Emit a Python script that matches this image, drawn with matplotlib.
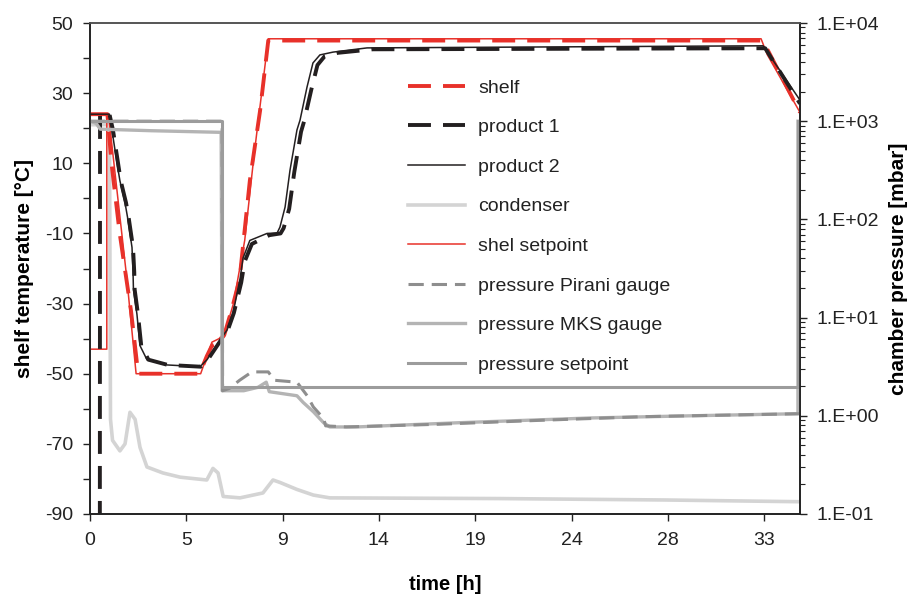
import numpy as np
import matplotlib
matplotlib.use("Agg")
import matplotlib.pyplot as plt
from matplotlib.ticker import FixedLocator, FuncFormatter, LogLocator, NullFormatter

plt.rcParams['font.family'] = ['Liberation Sans', 'DejaVu Sans']
plt.rcParams['axes.unicode_minus'] = False

# ---------------- data ----------------
x_tick_pos = [0, 4.7, 9.4, 14.1, 18.8, 23.5, 28.2, 32.9]
x_tick_labels = ['0', '5', '9', '14', '19', '24', '28', '33']

shelf_t = [0, 0.85, 1.05, 1.45, 1.75, 2.0, 2.35, 5.35, 5.7, 5.95, 6.3, 6.55, 6.95, 7.3, 7.8, 8.3, 8.7, 32.8, 33.1, 34.65]
shelf_T = [24, 24, 10, -10, -22, -32, -50, -50, -45, -42, -41, -39, -31, -23, 5, 25, 45, 45, 42, 24.5]

prod1_t = [0, 0.48, 0.49, 0.95, 1.12, 1.37, 1.5, 1.76, 1.9, 2.1, 2.16, 2.18, 2.34, 2.5, 2.85, 3.8, 5.4, 5.75, 6.38, 6.73, 7.02, 7.38, 7.55, 7.9, 8.75, 9.3, 9.45, 9.72, 9.97, 10.3, 10.45, 10.8, 11.1, 11.45, 12.1, 13.8, 32.95, 34.65]
prod1_T = [-100, -100, 24, 24, 19.5, 10, 5, -1.3, -6, -14, -21, -26, -33, -42, -46, -47.5, -48, -46, -40.5, -37.5, -32.7, -24, -18, -13, -10.5, -10, -8.5, -3, 7.5, 19, 22, 31, 38, 40.5, 41.5, 42.5, 42.8, 27]

prod2_t = [0, 0.5, 0.95, 1.07, 1.32, 1.46, 1.71, 1.85, 2.05, 2.1, 2.12, 2.29, 2.44, 2.78, 3.76, 5.37, 5.71, 6.34, 6.69, 6.98, 7.32, 7.47, 7.8, 8.64, 9.13, 9.27, 9.52, 9.76, 10.1, 10.25, 10.59, 10.88, 11.22, 11.86, 13.52, 32.85, 34.65]
prod2_T = [24, 24, 24, 19.5, 10, 5, -1.3, -6, -14, -21, -26, -33, -42, -46, -47.5, -48, -46, -40.5, -37.5, -32.7, -23, -17, -12, -10, -9.9, -8.2, -2.5, 8, 19.5, 22.3, 31.7, 38.6, 40.9, 41.7, 42.9, 43.5, 28]

cond_t = [0, 0.95, 1.0, 1.1, 1.46, 1.71, 1.95, 2.2, 2.44, 2.78, 3.56, 4.4, 5.7, 6.0, 6.25, 6.5, 7.32, 8.44, 8.93, 9.27, 10.1, 10.9, 11.7, 20, 28, 34.65]
cond_T = [21, 21, -63, -69, -72, -70, -61, -63, -71, -76.6, -78.3, -79.5, -80.3, -77, -78.3, -85, -85.4, -84, -80.3, -81, -83, -84.6, -85.4, -85.6, -86, -86.5]

setp_t = [0, 0.82, 0.82, 0.9, 1.8, 2.25, 5.4, 5.95, 6.3, 6.6, 7.0, 7.55, 8.0, 8.7, 32.75, 33.05, 34.65]
setp_T = [-43, -43, 24, 24, -23, -50, -50, -41, -40, -38, -30, -12, 12, 45.5, 45.5, 41, 24.5]

pir_t = [0, 6.45, 6.47, 6.8, 7.3, 7.9, 8.7, 9.0, 10.1, 10.6, 10.9, 11.4, 11.5, 12.5, 17, 22, 27, 34.65]
pir_P = [1000, 1000, 1.8, 1.9, 2.3, 2.8, 2.8, 2.3, 2.2, 1.6, 1.23, 0.94, 0.79, 0.77, 0.82, 0.9, 0.98, 1.05]

mks_t = [0, 0.3, 0.5, 3.0, 6.4, 6.45, 7.5, 8.2, 8.6, 8.75, 10.1, 10.4, 10.9, 11.4, 11.7, 13.0, 18.0, 24.4, 29.3, 34.55, 34.55]
mks_P = [1000, 950, 830, 800, 770, 1.8, 1.8, 1.95, 2.2, 1.76, 1.6, 1.37, 1.1, 0.85, 0.77, 0.77, 0.85, 0.95, 1.0, 1.05, 1000]

psp_t = [0, 6.45, 6.45, 34.55, 34.55]
psp_P = [1000, 1000, 1.95, 1.95, 1000]

# ---------------- styling ----------------
RED = '#e8312a'
BLACK = '#231f20'
COND = '#d4d4d4'
MKS = '#b4b4b4'
PIR = '#8e8e8e'
PSP = '#9c9c9c'

fig = plt.figure(figsize=(9.19, 5.98), dpi=100)
ax = fig.add_axes([90/919, 1-514/598, 710/919, 491/598])
ax2 = ax.twinx()

l_cond, = ax.plot(cond_t, cond_T, color=COND, lw=2.6, label='condenser', zorder=2)
l_setp, = ax.plot(setp_t, setp_T, color=RED, lw=1.1, label='shel setpoint', zorder=3)
l_shelf, = ax.plot(shelf_t, shelf_T, color=RED, lw=2.8, dashes=(5.9, 3.1), label='shelf', zorder=4)
l_p1, = ax.plot(prod1_t, prod1_T, color=BLACK, lw=2.8, dashes=(5.9, 3.1), label='product 1', zorder=5)
l_p2, = ax.plot(prod2_t, prod2_T, color=BLACK, lw=1.1, label='product 2', zorder=6)

l_mks, = ax2.plot(mks_t, mks_P, color=MKS, lw=2.4, label='pressure MKS gauge')
l_pir, = ax2.plot(pir_t, pir_P, color=PIR, lw=2.2, dashes=(5.0, 2.6), label='pressure Pirani gauge')
l_psp, = ax2.plot(psp_t, psp_P, color=PSP, lw=2.2, label='pressure setpoint')

ax.set_xlim(0, 34.65)
ax.set_ylim(-90, 50)
ax2.set_ylim(0.1, 10000)
ax2.set_yscale('log')

ax.xaxis.set_major_locator(FixedLocator(x_tick_pos))
ax.set_xticklabels(x_tick_labels)
ax.yaxis.set_major_locator(FixedLocator(list(range(-90, 51, 20))))
ax.yaxis.set_minor_locator(FixedLocator(list(range(-80, 41, 20))))

ax2.yaxis.set_major_locator(LogLocator(base=10, numticks=10))
ax2.yaxis.set_minor_locator(LogLocator(base=10, subs=np.arange(2, 10), numticks=20))
ax2.yaxis.set_minor_formatter(NullFormatter())
ax2.yaxis.set_major_formatter(FuncFormatter(lambda v, p: '1.E{:+03d}'.format(int(round(np.log10(v))))))

tick_fs = 14
ax.tick_params(axis='both', which='both', direction='out', length=5, width=1.0, colors='#222', labelsize=tick_fs, pad=7)
ax.tick_params(axis='x', pad=8)
ax2.tick_params(axis='y', which='major', direction='out', length=5, width=1.0, colors='#222', labelsize=tick_fs, pad=7)
ax2.tick_params(axis='y', which='minor', direction='out', length=3.5, width=0.8, colors='#222')

for a in (ax, ax2):
    for s in a.spines.values():
        s.set_color('#222')
        s.set_linewidth(1.2)
    a.spines['top'].set_color('#555')

ax.set_xlabel('time [h]', fontsize=14.5, fontweight='bold', labelpad=19)
ax.set_ylabel('shelf temperature [°C]', fontsize=15, fontweight='bold', labelpad=8)
ax2.set_ylabel('chamber pressure [mbar]', fontsize=15, fontweight='bold', labelpad=7)

handles = [l_shelf, l_p1, l_p2, l_cond, l_setp, l_pir, l_mks, l_psp]
leg = ax2.legend(handles=handles, labels=[h.get_label() for h in handles],
                 loc='upper left', bbox_to_anchor=(408/919, 1-79/598), bbox_transform=fig.transFigure,
                 frameon=False, fontsize=14, handlelength=2.93, handletextpad=0.67,
                 labelspacing=1.13, borderpad=0, borderaxespad=0)
for t in leg.get_texts():
    t.set_color('#222')

fig.savefig('out.png', dpi=100)
